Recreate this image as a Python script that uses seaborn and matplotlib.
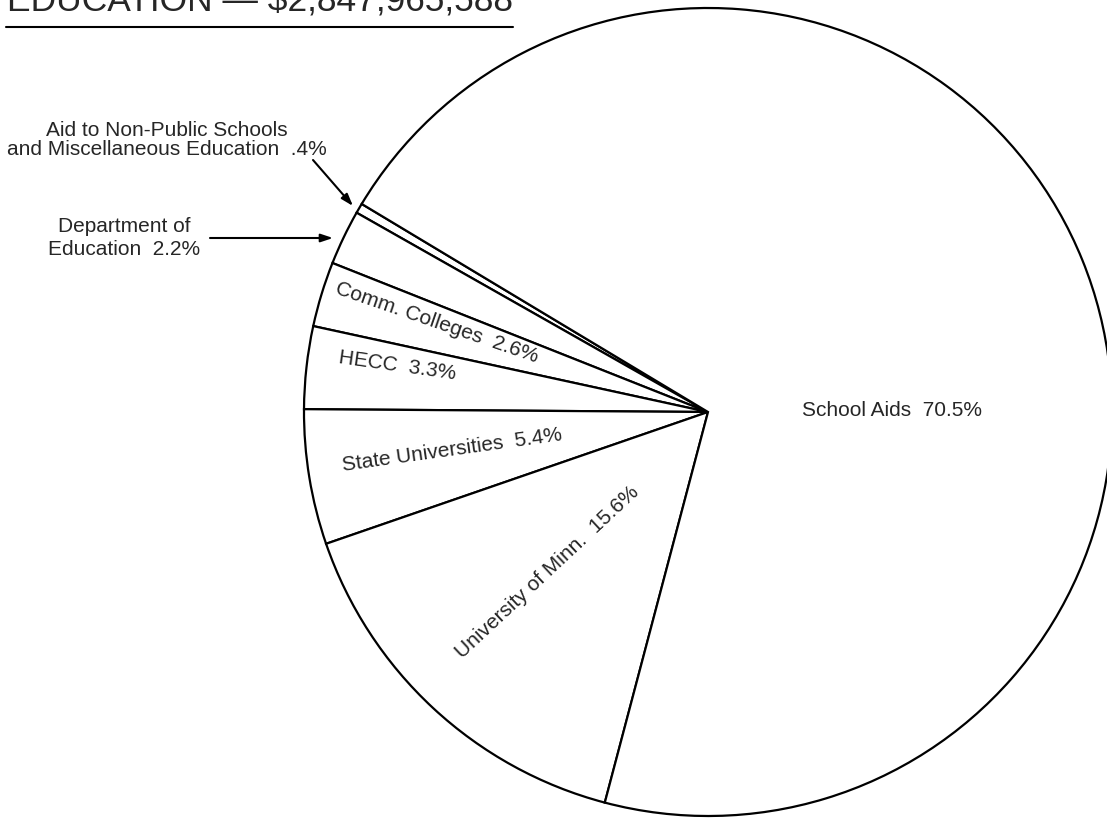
import matplotlib
matplotlib.use("Agg")
import matplotlib.pyplot as plt
import seaborn as sns

# data
categories = ["Aid to Non-Public Schools and Miscellaneous Education",
              "Department of Education", "Comm. Colleges", "HECC",
              "State Universities", "University of Minn.", "School Aids"]
shares = [0.4, 2.2, 2.6, 3.3, 5.4, 15.6, 70.5]
title_text = "EDUCATION \u2014 $2,847,965,588"

sns.set_theme(style="white")
plt.rcParams['font.family'] = ['Liberation Sans', 'DejaVu Sans']

W, H = 1107, 819
fig = plt.figure(figsize=(W / 100, H / 100), dpi=100)
ax = fig.add_axes([0, 0, 1, 1])

def py(y):
    # image y (from top) -> axes y
    return H - y

ax.pie(shares, center=(708, py(412)), radius=404, startangle=149,
       counterclock=True, colors=["white"] * len(shares),
       wedgeprops=dict(edgecolor="black", linewidth=1.6))
ax.set_xlim(0, W)
ax.set_ylim(0, H)
ax.set_aspect("equal")
ax.axis("off")

fs = 15
lab = lambda i: f"{shares[i]:.1f}%".lstrip("0")

# inside labels
ax.text(892, py(410), f"{categories[6]}  {lab(6)}", fontsize=fs, ha="center", va="center")
ax.text(547, py(572), f"{categories[5]}  {lab(5)}", fontsize=fs, ha="center", va="center",
        rotation=43, rotation_mode="anchor")
ax.text(452, py(450), f"{categories[4]}  {lab(4)}", fontsize=fs, ha="center", va="center",
        rotation=8, rotation_mode="anchor")
ax.text(397, py(366), f"{categories[3]}  {lab(3)}", fontsize=fs, ha="center", va="center",
        rotation=-8, rotation_mode="anchor")
ax.text(437, py(323), f"{categories[2]}  {lab(2)}", fontsize=fs, ha="center", va="center",
        rotation=-19, rotation_mode="anchor")

# outside labels with arrows
ax.text(167, py(155), "Aid to Non-Public Schools\nand Miscellaneous Education  " + lab(0),
        fontsize=fs, ha="center", va="baseline", linespacing=1.0)
ax.text(124, py(255), "Department of\nEducation  " + lab(1),
        fontsize=fs, ha="center", va="baseline", linespacing=1.25)

arrow = dict(arrowstyle="-|>,head_length=0.6,head_width=0.2", color="black", lw=1.5,
             shrinkA=0, shrinkB=0)
ax.annotate("", xy=(353, py(206)), xytext=(313, py(160)), arrowprops=arrow)
ax.annotate("", xy=(333, py(238)), xytext=(210, py(238)), arrowprops=arrow)

# title (cut off at the top like the scan) and underline
ax.text(7, py(11), title_text, fontsize=25.5, ha="left", va="baseline")
ax.plot([6, 513], [py(27), py(27)], color="black", lw=1.5)

fig.savefig("out.png", dpi=100)
